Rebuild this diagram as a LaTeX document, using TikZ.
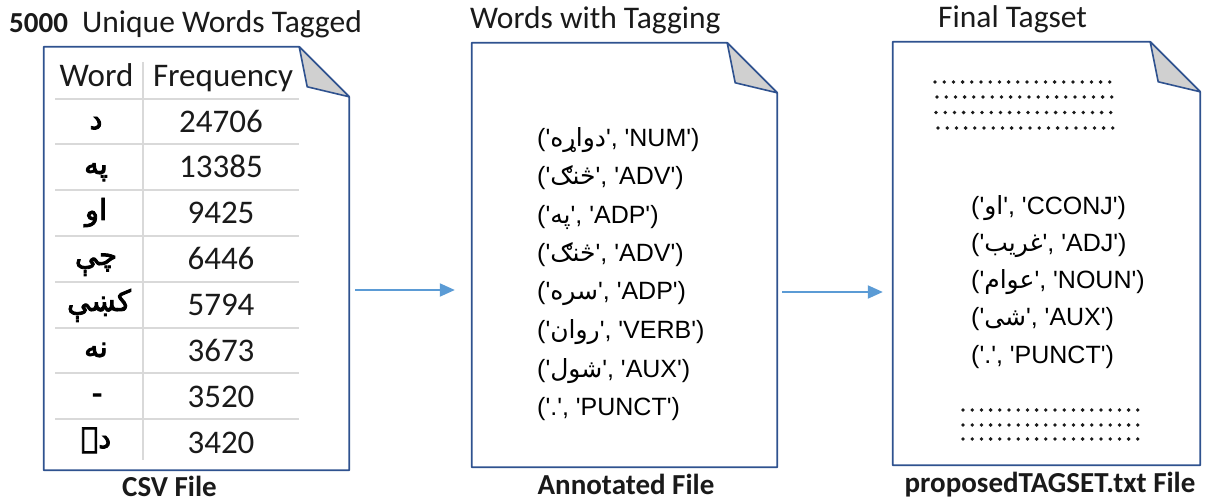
\documentclass[tikz,border=0pt]{standalone}
\usepackage{fontspec}
\setmainfont{Carlito}
\newfontfamily\tagfont{Liberation Sans}
\newfontfamily\arabicfont[Script=Arabic]{DejaVu Sans}
\newfontfamily\arabicheavy[Script=Arabic, FakeBold=3]{DejaVu Sans}
\TeXXeTstate=1
\usetikzlibrary{arrows.meta}

\definecolor{docline}{HTML}{2F528F}
\definecolor{foldfill}{HTML}{D0D0D0}
\definecolor{gridline}{HTML}{D9D9D9}
\definecolor{flowblue}{HTML}{5B9BD5}
\definecolor{inktext}{HTML}{1A1A1A}

% page outline with a folded top-right corner around a named body node
\newcommand\drawdocpage[1]{%
  \draw[docline, line width=1.8pt, line join=round, fill=white]
    (#1.north west) -- ([xshift=-50pt]#1.north east)
    -- ([yshift=-50pt]#1.north east) -- (#1.south east)
    -- (#1.south west) -- cycle;
  \draw[docline, line width=1.6pt, line join=round, fill=foldfill]
    ([xshift=-50pt]#1.north east) -- ([xshift=-42pt,yshift=-40pt]#1.north east)
    -- ([yshift=-50pt]#1.north east) -- cycle;
}

\begin{document}
\begin{tikzpicture}[x=1pt, y=-1pt,
  docbox/.style n args={2}{rectangle, inner sep=0pt, minimum width=#1, minimum height=#2},
  titletext/.style={font=\fontsize{31.5}{38}\selectfont, text=inktext, inner sep=0pt, anchor=base west},
  countlabel/.style={font=\bfseries\fontsize{29}{34}\selectfont, text=inktext, inner sep=0pt, anchor=base west},
  caption/.style={font=\bfseries\fontsize{29}{35}\selectfont, text=inktext, inner sep=0pt, anchor=base},
  cell/.style={font=\fontsize{33}{40}\selectfont, text=inktext, inner sep=0pt, anchor=base},
  wordcell/.style={font=\arabicheavy\fontsize{29}{34}\selectfont, text=black, inner sep=0pt, anchor=base},
  tagline/.style={font=\tagfont\fontsize{25}{30}\selectfont, text=black, inner sep=0pt, anchor=base west},
  grid/.style={draw=gridline, line width=1.5pt},
  dotline/.style={draw=inktext, line width=3.8pt, line cap=round, dash pattern=on 0pt off 9.2pt},
  flow/.style={draw=flowblue, line width=2pt, -{Triangle[length=15pt, width=13pt]}}
]
\useasboundingbox (0,0) rectangle (1209,502);
\fill[white] (0,0) rectangle (1209,502);

% ---- document bodies ----
\node[docbox={305pt}{423pt}] (csv) at (196.5,258.5) {};
\node[docbox={305pt}{424pt}] (ann) at (624.5,255) {};
\node[docbox={307pt}{423pt}] (fin) at (1046.5,253.5) {};
\drawdocpage{csv}
\drawdocpage{ann}
\drawdocpage{fin}

% ---- titles ----
\node[countlabel] (count) at (9,33) {5000};
\node[titletext] (csvtitle) at (82,33) {Unique Words Tagged};
\node[titletext] (anntitle) at (470,29) {Words with Tagging};
\node[titletext] (fintitle) at (938,28) {Final Tagset};

% ---- captions ----
\node[caption] (csvcap) at (169.5,496) {CSV File};
\node[caption] (anncap) at (626,494) {Annotated File};
\node[caption] (fincap) at (1050,492) {proposedTAGSET.txt File};

% ---- frequency table ----
\foreach \y in {99,144,190,236,282,328,373,419}
  \draw[grid] (55,\y) -- (299,\y);
\draw[grid] (143,62) -- (143,460);

\node[cell] (hword) at (96.5,87) {Word};
\node[cell] (hfreq) at (223,87) {Frequency};

\node[wordcell] (w1) at (96,129) {\beginR د\endR};
\node[wordcell] (w2) at (96,174) {\beginR په\endR};
\node[wordcell] (w3) at (96,220) {\beginR او\endR};
\node[wordcell] (w4) at (96,265) {\beginR چې\endR};
\node[wordcell] (w5) at (99,311) {\beginR کښې\endR};
\node[wordcell] (w6) at (96,357) {\beginR نه\endR};
\node[wordcell] (w7) at (97,403) {-};
\node[wordcell] (w8) at (96,448) {\beginR دے\endR};

\node[cell] (f1) at (221,132.5) {24706};
\node[cell] (f2) at (221,178) {13385};
\node[cell] (f3) at (221,224) {9425};
\node[cell] (f4) at (221,270) {6446};
\node[cell] (f5) at (221,316) {5794};
\node[cell] (f6) at (221,361.5) {3673};
\node[cell] (f7) at (221,407) {3520};
\node[cell] (f8) at (221,453) {3420};

% ---- annotated tokens ----
\node[tagline] (t1) at (537,147) {('{\arabicfont\beginR دواړه\endR}', 'NUM')};
\node[tagline] (t2) at (537,185) {('{\arabicfont\beginR څنګ\endR}', 'ADV')};
\node[tagline] (t3) at (537,224) {('{\arabicfont\beginR په\endR}', 'ADP')};
\node[tagline] (t4) at (537,262) {('{\arabicfont\beginR څنګ\endR}', 'ADV')};
\node[tagline] (t5) at (537,300) {('{\arabicfont\beginR سره\endR}', 'ADP')};
\node[tagline] (t6) at (537,338) {('{\arabicfont\beginR روان\endR}', 'VERB')};
\node[tagline] (t7) at (537,377) {('{\arabicfont\beginR شول\endR}', 'AUX')};
\node[tagline] (t8) at (537,415) {('.', 'PUNCT')};

% ---- final tagset ----
\draw[dotline] (935,82) -- ++(176,0);
\draw[dotline] (937,97) -- ++(176,0);
\draw[dotline] (936,112.5) -- ++(176,0);
\draw[dotline] (938,128) -- ++(176,0);

\node[tagline] (s1) at (971,215) {('{\arabicfont\beginR او\endR}', 'CCONJ')};
\node[tagline] (s2) at (971,252) {('{\arabicfont\beginR غریب\endR}', 'ADJ')};
\node[tagline] (s3) at (971,289) {('{\arabicfont\beginR عوام\endR}', 'NOUN')};
\node[tagline] (s4) at (971,326) {('{\arabicfont\beginR شی\endR}', 'AUX')};
\node[tagline] (s5) at (971,363) {('.', 'PUNCT')};

\draw[dotline] (963,410) -- ++(176,0);
\draw[dotline] (963,425) -- ++(176,0);
\draw[dotline] (963,439) -- ++(176,0);

% ---- flow arrows ----
\coordinate (row1) at (0,290);
\coordinate (row2) at (0,292);
\draw[flow, shorten <=6pt, shorten >=17pt] (csv.east |- row1) -- (ann.west |- row1);
\draw[flow, shorten <=5pt, shorten >=10pt] (ann.east |- row2) -- (fin.west |- row2);
\end{tikzpicture}
\end{document}
